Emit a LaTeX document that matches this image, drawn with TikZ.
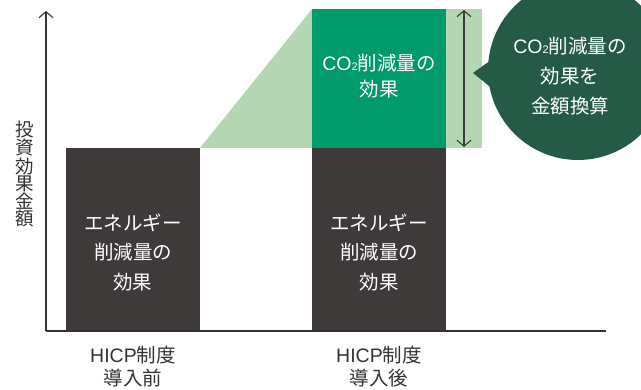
\documentclass[tikz,border=0pt]{standalone}
\usepackage{fontspec}
\setmainfont{Noto Sans CJK JP}
\newfontfamily\lat{Liberation Sans}
\usetikzlibrary{arrows.meta}
\definecolor{barDark}{HTML}{3E3A39}
\definecolor{barGreen}{HTML}{009A6B}
\definecolor{lightGreen}{HTML}{B5D6B2}
\definecolor{circGreen}{HTML}{255A47}
\definecolor{txtGray}{HTML}{333333}
\tikzset{mychev/.tip={Straight Barb[length=6pt,width=14pt,line width=1.1pt]}}
\newcommand{\cotwo}{{\lat CO}\raisebox{-0.05ex}{\lat\fontsize{11}{11}\selectfont 2}}
\begin{document}
\begin{tikzpicture}[x=1pt,y=-1pt,
  bartext/.style={text=white,font=\fontsize{19.5}{29.5}\selectfont,align=center},
  labtext/.style={text=txtGray,font=\fontsize{19.5}{23}\selectfont,align=center}]
\useasboundingbox (0,0) rectangle (641,390);
\begin{scope}
\clip (0,0) rectangle (641,390);
% light green wedge and strip
\fill[lightGreen] (200,148) -- (312,9) -- (312,148) -- cycle;
\fill[lightGreen] (446,9) rectangle (482,148);
% bars
\fill[barDark] (66,148) rectangle (200,331);
\fill[barDark] (312,148) rectangle (446,331);
\fill[barGreen] (312,9) rectangle (446,148);
% circle callout
\fill[circGreen] (578,70) circle (90);
\fill[circGreen] (473,73) -- (494,58) -- (494,90) -- cycle;
\end{scope}
% axes
\coordinate (o) at (46,331);
\coordinate (ytop) at (46,11);
\coordinate (xend) at (606,331);
\draw[txtGray,line width=1.1pt] (xend) -- (o);
\draw[txtGray,line width=1.1pt,-{mychev}] (o) -- (ytop);
% double arrow
\coordinate (da) at (464,10);
\coordinate (db) at (464,147);
\draw[barDark,line width=1.1pt,{mychev}-{mychev}] (da) -- (db);
% texts
\node[bartext] (e1) at (133,252.5) {エネルギー\\削減量の\\効果};
\node[bartext] (e2) at (379,252.5) {エネルギー\\削減量の\\効果};
\node[bartext,font=\fontsize{19.5}{26}\selectfont] (c1) at (379,76) {\cotwo 削減量の\\効果};
\node[bartext,font=\fontsize{19.5}{30}\selectfont] (c2) at (570,76) {\cotwo 削減量の\\効果を\\金額換算};
\node[labtext] (l1) at (133,366.5) {{\lat HICP}制度\\導入前};
\node[labtext] (l2) at (379,366.5) {{\lat HICP}制度\\導入後};
\node[labtext,font=\fontsize{18.5}{17}\selectfont] (ax) at (25,174) {投\\資\\効\\果\\金\\額};
\end{tikzpicture}
\end{document}
